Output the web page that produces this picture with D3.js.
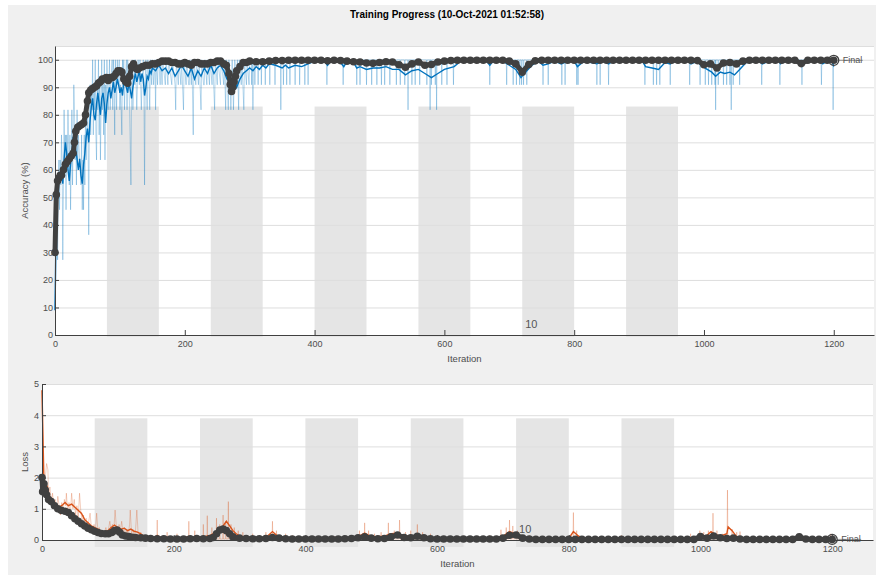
<!DOCTYPE html>
<html>
<head>
<meta charset="utf-8">
<script src="https://cdn.jsdelivr.net/npm/d3@7"></script>
<style>
  body { margin: 0; background: #fff; }
  svg { display: block; font-family: "Liberation Sans", Arial, sans-serif; }
</style>
</head>
<body>
<svg id="chart" width="876" height="575"></svg>
<script>
const title = 'Training Progress (10-Oct-2021 01:52:58)';

// iteration axis
const iterTicks = [0, 200, 400, 600, 800, 1000, 1200];
const iterLimit = 1262;
const epochStarts = [80, 240, 400, 560, 720, 880]; // shaded (even) epochs
const epochLength = 80;
const epochMark = { iter: 720, label: '10' };

const accTicks = [0, 10, 20, 30, 40, 50, 60, 70, 80, 90, 100];
const lossTicks = [0, 1, 2, 3, 4, 5];

// mini-batch accuracy, [iteration, %]
const accRaw = [
  [0,9.1],[1,18.2],[2,45.5],[3,36.4],[4,27.3],[5,54.5],[6,63.6],[7,45.5],[8,63.6],[9,54.5],
  [10,72.7],[11,63.6],[12,27.3],[13,54.5],[14,81.8],[15,63.6],[16,72.7],[17,45.5],[18,72.7],[19,63.6],
  [20,81.8],[22,54.5],[23,72.7],[24,45.5],[25,63.6],[26,81.8],[27,54.5],[28,72.7],[29,90.9],[30,81.8],
  [31,63.6],[32,72.7],[33,54.5],[34,81.8],[35,63.6],[36,72.7],[38,63.6],[40,54.5],[41,72.7],[42,45.5],
  [43,63.6],[44,45.5],[45,72.7],[46,54.5],[47,81.8],[48,63.6],[49,72.7],[50,81.8],[51,72.7],[52,36.4],
  [53,81.8],[54,90.9],[55,72.7],[56,90.9],[57,81.8],[58,100],[59,72.7],[60,90.9],[61,81.8],[62,100],
  [63,72.7],[64,63.6],[65,90.9],[66,81.8],[67,100],[68,72.7],[69,90.9],[70,63.6],[71,81.8],[72,100],
  [73,81.8],[74,90.9],[75,72.7],[76,100],[77,63.6],[78,90.9],[79,81.8],[80,100],[82,81.8],[83,90.9],
  [84,100],[85,81.8],[86,90.9],[88,100],[89,81.8],[90,100],[91,90.9],[92,72.7],[93,100],[94,90.9],
  [95,81.8],[96,100],[97,90.9],[99,100],[100,81.8],[101,90.9],[103,72.7],[104,100],[105,90.9],[106,100],
  [107,81.8],[108,90.9],[110,100],[111,81.8],[112,100],[114,90.9],[115,81.8],[117,54.5],[118,90.9],[119,100],
  [120,81.8],[122,100],[123,90.9],[124,100],[126,81.8],[127,90.9],[128,100],[130,90.9],[131,100],[133,81.8],
  [134,90.9],[136,100],[137,90.9],[138,54.5],[139,90.9],[140,100],[142,81.8],[143,100],[145,90.9],[146,81.8],
  [147,100],[149,90.9],[150,100],[152,90.9],[154,100],[155,81.8],[156,100],[158,90.9],[159,100],[160,100],
  [162,90.9],[163,100],[165,90.9],[166,100],[170,90.9],[171,100],[174,90.9],[175,100],[180,90.9],[181,100],
  [185,90.9],[186,81.8],[187,100],[190,90.9],[191,100],[194,90.9],[195,100],[198,81.8],[199,100],[202,90.9],
  [203,100],[206,90.9],[207,90.9],[208,100],[210,90.9],[211,100],[213,72.7],[214,100],[217,90.9],[218,100],
  [221,90.9],[222,100],[225,81.8],[226,100],[229,90.9],[230,90.9],[231,100],[234,90.9],[235,100],[238,90.9],
  [239,100],[242,90.9],[243,100],[246,81.8],[247,100],[250,90.9],[251,100],[255,90.9],[256,100],[260,90.9],
  [261,100],[263,81.8],[264,100],[266,90.9],[267,81.8],[268,100],[270,90.9],[271,81.8],[272,90.9],[273,100],
  [275,81.8],[276,90.9],[277,100],[280,90.9],[281,100],[283,81.8],[284,100],[287,90.9],[288,100],[291,81.8],
  [292,100],[295,90.9],[296,100],[299,90.9],[300,100]
];
// after iteration 300 the mini-batch accuracy sits at 100 except for these dips
const accDips = [
  [303,90.9],[305,81.8],[308,90.9],[313,90.9],[318,90.9],[324,90.9],[331,90.9],[339,90.9],[348,81.8],[352,90.9],
  [357,90.9],[362,90.9],[370,90.9],[377,90.9],[385,90.9],[390,90.9],[419,90.9],[444,90.9],[465,90.9],[470,90.9],
  [480,90.9],[488,90.9],[496,90.9],[503,90.9],[508,90.9],[516,90.9],[526,90.9],[532,90.9],[539,90.9],[544,81.8],
  [550,90.9],[555,90.9],[562,90.9],[573,90.9],[578,81.8],[580,90.9],[586,90.9],[588,81.8],[596,90.9],[604,90.9],
  [614,90.9],[670,90.9],[696,90.9],[706,90.9],[711,90.9],[716,90.9],[719,90.9],[722,90.9],[727,90.9],[752,90.9],
  [760,90.9],[781,90.9],[786,90.9],[804,90.9],[806,90.9],[835,90.9],[840,90.9],[853,90.9],[909,90.9],[922,90.9],
  [927,90.9],[932,90.9],[948,90.9],[978,90.9],[994,90.9],[1002,90.9],[1007,90.9],[1012,90.9],[1017,90.9],[1018,81.8],
  [1022,90.9],[1030,90.9],[1035,90.9],[1040,90.9],[1042,81.8],[1045,90.9],[1055,90.9],[1089,90.9],[1117,90.9],[1151,90.9],
  [1181,90.9],[1199,81.8]
];
const accCeil = 100;

// smoothed accuracy
const accSmooth = [
  [0,9],[2,45],[4,55],[6,58],[8,56],[10,60],[12,55],[14,64],[16,70],[18,66],[20,60],[22,56],[24,62],[26,66],
  [28,72],[30,70],[32,67],[34,64],[36,60],[38,64],[40,58],[42,55],[44,62],[46,66],[48,72],[50,75],[52,70],
  [54,78],[56,83],[58,86],[60,80],[62,78],[64,84],[66,88],[68,84],[70,80],[72,86],[74,88],[76,84],[78,77],
  [80,84],[82,88],[84,90],[86,86],[88,89],[90,92],[92,88],[94,90],[96,93],[98,91],[100,88],[102,90],[104,87],
  [106,92],[108,93],[110,90],[112,88],[114,92],[116,89],[118,86],[120,90],[122,93],[124,95],[126,92],[128,94],
  [130,96],[132,92],[134,95],[136,93],[138,87],[140,90],[142,94],[144,93],[146,96],[148,95],[150,97],[155,96],
  [160,98],[165,96],[170,97],[175,95],[180,97],[185,94],[190,96],[195,98],[200,96],[205,94],[210,97],[215,93],
  [220,96],[225,94],[230,97],[235,95],[240,98],[245,95],[250,97],[255,98],[260,96],[265,93],[270,92],[275,94],
  [280,90],[285,93],[290,95],[295,96],[300,97],[305,96],[310,97.5],[315,96.5],[320,98],[325,97],[330,98.5],[340,98],
  [350,97],[355,98],[360,97],[370,98],[380,97.5],[390,98.5],[400,99.5],[415,99.5],[420,98],[425,99.5],[440,99],
  [445,97.5],[450,99.5],[460,99],[465,97],[470,97.5],[480,96.5],[490,97],[500,97],[510,97.5],[520,96.5],[530,96.5],
  [540,94.5],[550,96],[560,96.5],[570,95],[580,93.5],[590,95],[600,96.5],[615,97.5],[625,99.5],[665,99.5],[670,98],
  [675,99.5],[690,99.5],[700,98],[710,96.5],[718,93.5],[725,95.5],[735,98],[745,99.5],[752,98],[760,98.5],[770,99.5],
  [780,98.5],[790,99.5],[800,99.5],[805,97.5],[815,99.5],[835,98.5],[845,99.5],[853,98.5],[860,99.5],[905,99.5],
  [910,97.5],[920,97],[930,96.5],[940,99],[948,98.5],[955,99.5],[975,99.5],[980,98.5],[990,99.5],[995,98],
  [1005,96.5],[1012,95.5],[1018,94],[1025,95.5],[1032,95],[1040,95.5],[1047,94.5],[1055,96.5],[1065,99],[1085,99.5],
  [1090,98.5],[1100,99.5],[1115,99.5],[1118,98.5],[1125,99.5],[1148,99.5],[1152,98.5],[1160,99.5],[1180,99.5],
  [1183,98.5],[1190,99.5],[1198,99],[1200,97.5]
];

// validation accuracy up to iteration 295, then every 10 iterations from 300
const accVal = [
  [0,30],[2,51],[4,56],[6,57],[8,58],[10,58],[13,60],[16,62],[19,63],[22,64],[25,65],[28,66],[30,70],[32,74],
  [35,75.5],[38,76],[41,76.5],[44,77],[47,80],[50,85],[52,88],[55,89],[58,89.5],[61,90],[64,90.5],[67,91.5],
  [70,92],[73,93],[76,93],[79,93.5],[82,92.5],[85,93.5],[88,93.5],[91,94],[94,95],[97,96],[100,96],[103,95.5],
  [106,93],[109,92],[112,91.5],[115,94],[118,97.5],[121,98.5],[124,97],[127,96.5],[130,97],[135,97.5],[140,98],
  [145,98],[150,98.5],[155,98.5],[160,99],[165,99.5],[170,99.5],[175,99.5],[180,99],[185,99],[190,98.5],[195,98.5],
  [200,99],[205,98.5],[210,98],[215,99],[220,99],[225,98.5],[230,98.5],[235,98.5],[240,99],[245,99],[250,99.5],
  [255,99.5],[260,98.5],[264,98],[268,95],[270,91],[272,88.5],[274,90],[276,92],[278,94],[280,96],[285,97.5],
  [290,99],[295,99]
];
const accValLate = [
  99.5,99.3,99.3,99.5,99.7,99.7,99.8,99.8,99.8,99.8,
  99.8,99.8,99.6,99.8,99.7,99.5,99.3,99.2,98.8,98.7,
  99,99.3,99.2,98.2,97.3,98.5,99.2,98,98.3,99.2,
  99.5,99.7,99.8,99.8,99.8,99.8,99.8,99.8,99.8,99.8,
  99.5,98.5,95.5,98.3,99.6,99.8,99.8,99.8,99.8,99.8,
  99.8,99.8,99.8,99.8,99.8,99.8,99.8,99.8,99.8,99.8,
  99.8,99.8,99.8,99.8,99.8,99.8,99.8,99.8,99.8,99.7,
  98.2,98.5,97,98.8,99,98.5,99.5,99.8,99.8,99.8,
  99.8,99.8,99.8,99.8,99.8,98.6,99.8,99.8,99.8,99.8,
  99.8
];

// mini-batch loss, [iteration, loss]
const lossRaw = [
  [0,4.8],[2,2.0],[3,1.6],[5,2.0],[7,2.45],[9,2.25],[10,1.4],[12,1.7],[14,1.2],[16,1.5],[18,1.0],[20,1.3],
  [22,0.9],[24,1.4],[26,1.1],[28,0.8],[30,1.2],[32,0.9],[34,1.3],[36,1.1],[37,1.5],[39,0.9],[41,1.2],[43,0.8],
  [45,1.5],[47,1.0],[49,1.3],[51,0.8],[53,1.1],[55,0.7],[57,1.5],[59,0.9],[61,0.6],[63,0.8],[65,0.5],[67,0.7],
  [69,0.4],[71,0.6],[73,0.86],[75,0.4],[77,0.3],[79,0.5],[81,0.3],[83,0.86],[85,0.25],[87,0.4],[89,0.2],[91,0.3],
  [93,0.15],[95,0.25],[97,0.4],[99,0.2],[101,0.35],[103,0.6],[105,0.3],[107,0.5],[109,0.3],[111,0.96],[113,0.4],
  [115,0.2],[117,0.5],[119,0.3],[121,0.6],[123,0.25],[125,0.4],[127,0.2],[129,0.3],[131,0.15],[133,0.5],[134,0.96],
  [136,0.2],[138,0.35],[140,0.15],[142,0.3],[144,0.96],[146,0.2],[148,0.1],[150,0.25],[152,0.08],[154,0.15],
  [156,0.05],[158,0.12],[160,0.03]
];
// after iteration 160 the mini-batch loss stays near the floor except for these spikes
const lossSpikes = [
  [175,0.64],[190,0.25],[205,0.2],[223,0.6],[232,0.3],[245,0.5],[251,0.78],[258,0.4],[265,0.7],[270,0.5],
  [275,0.8],[279,0.6],[283,1.23],[287,0.5],[292,0.4],[298,0.3],[305,0.25],[320,0.2],[340,0.25],[350,0.6],
  [356,0.3],[370,0.2],[380,0.15],[395,0.1],[420,0.1],[445,0.12],[470,0.15],[482,0.3],[490,0.55],[496,0.3],
  [505,0.2],[515,0.25],[526,0.55],[535,0.3],[543,0.64],[552,0.25],[560,0.3],[570,0.5],[578,0.25],[590,0.2],
  [600,0.15],[620,0.12],[650,0.1],[680,0.15],[697,0.33],[705,0.4],[710,0.64],[715,0.45],[722,0.3],[740,0.15],
  [760,0.1],[780,0.12],[807,0.88],[812,0.3],[830,0.1],[860,0.12],[880,0.15],[900,0.1],[930,0.12],[960,0.1],
  [985,0.2],[999,0.3],[1005,0.25],[1012,0.3],[1019,0.86],[1025,0.3],[1033,0.2],[1041,1.6],[1048,0.35],[1055,0.25],
  [1060,0.27],[1080,0.1],[1120,0.12],[1150,0.1],[1180,0.12],[1198,0.2]
];
const lossFloor = 0.03;

const lossSmooth = [
  [0,4.8],[2,2.8],[3,1.8],[5,1.6],[8,1.7],[11,1.35],[15,1.25],[20,1.15],[25,1.05],[30,1.1],[35,1.2],[40,1.1],
  [45,1.15],[50,1.05],[55,0.95],[60,0.85],[65,0.65],[70,0.55],[75,0.45],[80,0.4],[85,0.35],[90,0.27],[95,0.25],
  [100,0.3],[105,0.4],[110,0.48],[115,0.4],[120,0.35],[125,0.38],[130,0.3],[135,0.35],[140,0.28],[145,0.25],
  [150,0.2],[155,0.12],[160,0.08],[170,0.06],[175,0.15],[180,0.08],[190,0.06],[200,0.05],[210,0.05],[220,0.1],
  [225,0.08],[235,0.06],[245,0.1],[255,0.15],[265,0.25],[270,0.3],[275,0.45],[280,0.6],[285,0.45],[290,0.3],
  [295,0.2],[300,0.12],[310,0.08],[320,0.06],[340,0.08],[350,0.27],[358,0.12],[370,0.06],[400,0.04],[450,0.04],
  [480,0.1],[490,0.22],[500,0.1],[520,0.12],[530,0.2],[541,0.22],[550,0.12],[565,0.12],[570,0.2],[580,0.1],
  [600,0.06],[650,0.04],[690,0.06],[700,0.12],[710,0.27],[718,0.2],[728,0.08],[760,0.04],[800,0.05],[807,0.27],
  [815,0.12],[825,0.05],[900,0.04],[990,0.05],[1000,0.12],[1010,0.15],[1016,0.27],[1022,0.18],[1030,0.12],
  [1040,0.2],[1042,0.42],[1048,0.3],[1055,0.1],[1065,0.05],[1150,0.05],[1198,0.08],[1200,0.1]
];

const lossVal = [
  [0,2.0],[1,1.55],[3,1.8],[5,1.6],[7,1.45],[10,1.3],[14,1.23],[19,1.1],[24,1.0],[29,0.95],[35,0.92],[40,0.88],
  [45,0.78],[50,0.68],[55,0.6],[60,0.52],[65,0.45],[70,0.38],[75,0.33],[80,0.28],[85,0.24],[90,0.21],[96,0.2],
  [101,0.2],[106,0.24],[110,0.3],[114,0.32],[118,0.25],[122,0.16],[127,0.13],[132,0.11],[137,0.09],[142,0.08],
  [150,0.07],[157,0.06],[165,0.05],[175,0.04],[185,0.04],[195,0.03],[205,0.03],[215,0.03],[225,0.04],[235,0.05],
  [245,0.04],[255,0.05],[260,0.08],[265,0.2],[270,0.32],[275,0.35],[280,0.3],[285,0.2],[290,0.1]
];
const lossValLate = [
  0.06,0.05,0.04,0.04,0.05,0.08,0.06,0.04,0.03,0.03,
  0.03,0.03,0.03,0.03,0.03,0.03,0.04,0.05,0.07,0.1,
  0.06,0.04,0.05,0.1,0.16,0.08,0.07,0.12,0.07,0.04,
  0.03,0.03,0.03,0.03,0.03,0.03,0.03,0.03,0.03,0.03,
  0.06,0.15,0.16,0.06,0.03,0.02,0.02,0.02,0.02,0.02,
  0.02,0.02,0.02,0.02,0.02,0.02,0.02,0.02,0.02,0.02,
  0.02,0.02,0.02,0.02,0.02,0.02,0.02,0.02,0.02,0.02,
  0.11,0.06,0.13,0.07,0.05,0.06,0.03,0.02,0.02,0.02,
  0.02,0.02,0.02,0.02,0.02,0.1,0.03,0.02,0.02,0.02,
  0.02
];
const lateIters = d3.range(300, 1201, 10);

const svg = d3.select('#chart');

// figure background
svg.append('rect')
  .attr('x', 8).attr('y', 5).attr('width', 868).attr('height', 570)
  .attr('fill', '#f0f0f0');

svg.append('text')
  .attr('x', 447).attr('y', 18)
  .attr('text-anchor', 'middle')
  .attr('font-size', 10)
  .attr('font-weight', 'bold')
  .attr('fill', '#000')
  .text(title);

// spikes around a flat level -> polyline points
function withSpikes(points, spikes, level) {
  const out = points.slice();
  spikes.forEach(d => {
    out.push([d[0] - 0.6, level], d, [d[0] + 0.6, level]);
  });
  out.push([1200, level]);
  return out;
}

function drawPanel(o) {
  const x = d3.scaleLinear().domain([0, iterLimit]).range([o.left, o.right]);
  const y = d3.scaleLinear().domain([0, o.yMax]).range([o.bottom, o.top]);
  const g = svg.append('g');

  g.append('rect')
    .attr('x', o.left).attr('y', o.top)
    .attr('width', o.right - o.left).attr('height', o.bottom - o.top)
    .attr('fill', '#fff');

  // shaded epochs
  g.append('g')
    .selectAll('rect')
    .data(epochStarts)
    .join('rect')
    .attr('x', d => x(d))
    .attr('width', d => x(d + epochLength) - x(d))
    .attr('y', y(o.bandTop))
    .attr('height', o.bottom + o.bandDrop - y(o.bandTop))
    .attr('fill', '#e5e5e5');

  // grid
  g.append('g')
    .selectAll('line')
    .data(o.yTicks.filter(t => t > 0).concat([o.yMax]))
    .join('line')
    .attr('x1', o.left).attr('x2', o.right)
    .attr('y1', d => y(d) + 0.5).attr('y2', d => y(d) + 0.5)
    .attr('stroke', '#dedede');

  g.append('text')
    .attr('x', x(epochMark.iter) + 3)
    .attr('y', o.bottom - 7)
    .attr('font-size', 11)
    .attr('fill', '#555')
    .text(epochMark.label);

  const line = d3.line().x(d => x(d[0])).y(d => y(d[1]));

  g.append('path')
    .datum(o.raw)
    .attr('d', line)
    .attr('fill', 'none')
    .attr('stroke', o.color)
    .attr('stroke-opacity', 0.28)
    .attr('stroke-width', 1);

  g.append('path')
    .datum(o.smooth)
    .attr('d', line)
    .attr('fill', 'none')
    .attr('stroke', o.color)
    .attr('stroke-width', 1.4);

  g.append('path')
    .datum(o.val)
    .attr('d', line)
    .attr('fill', 'none')
    .attr('stroke', '#404040')
    .attr('stroke-width', 5)
    .attr('stroke-linejoin', 'round');

  g.append('g')
    .selectAll('circle')
    .data(o.val)
    .join('circle')
    .attr('cx', d => x(d[0]))
    .attr('cy', d => y(d[1]))
    .attr('r', 3.8)
    .attr('fill', '#404040');

  // final marker
  const last = o.val[o.val.length - 1];
  g.append('line')
    .attr('x1', x(last[0]) + 5).attr('x2', x(last[0]) + 29)
    .attr('y1', y(last[1])).attr('y2', y(last[1]))
    .attr('stroke', '#777').attr('stroke-width', 0.8);
  g.append('circle')
    .attr('cx', x(last[0])).attr('cy', y(last[1]))
    .attr('r', 5)
    .attr('fill', 'none')
    .attr('stroke', '#404040')
    .attr('stroke-width', 1.3);
  g.append('text')
    .attr('x', x(last[0]) + 9).attr('y', y(last[1]) + 3)
    .attr('font-size', 9)
    .attr('fill', '#555')
    .text('Final');

  // axes
  g.append('g')
    .attr('transform', `translate(0,${o.bottom})`)
    .attr('color', '#404040')
    .call(d3.axisBottom(x).tickValues(iterTicks).tickFormat(d3.format('d'))
      .tickSizeInner(-5).tickSizeOuter(0).tickPadding(6))
    .call(a => a.selectAll('text').attr('font-size', 9).attr('fill', '#4d4d4d'));

  g.append('g')
    .attr('transform', `translate(${o.left},0)`)
    .attr('color', '#404040')
    .call(d3.axisLeft(y).tickValues(o.yTicks).tickFormat(d3.format('d'))
      .tickSizeInner(-4).tickSizeOuter(0).tickPadding(o.yPad))
    .call(a => a.selectAll('text').attr('font-size', 9).attr('fill', '#4d4d4d'));

  g.append('text')
    .attr('x', (o.left + o.right) / 2)
    .attr('y', o.bottom + 27)
    .attr('text-anchor', 'middle')
    .attr('font-size', 9.5)
    .attr('fill', '#4d4d4d')
    .text('Iteration');

  g.append('text')
    .attr('transform', `translate(28,${(o.top + o.bottom) / 2}) rotate(-90)`)
    .attr('text-anchor', 'middle')
    .attr('font-size', 9.5)
    .attr('fill', '#4d4d4d')
    .text(o.yLabel);
}

drawPanel({
  left: 55, right: 874, top: 46, bottom: 335,
  yMax: 105, yTicks: accTicks, yPad: 2, yLabel: 'Accuracy (%)',
  bandTop: 83, bandDrop: 2,
  color: '#0072bd',
  raw: withSpikes(accRaw, accDips, accCeil),
  smooth: accSmooth,
  val: accVal.concat(lateIters.map((it, i) => [it, accValLate[i]]))
});

drawPanel({
  left: 42, right: 873, top: 384, bottom: 540,
  yMax: 5, yTicks: lossTicks, yPad: 3, yLabel: 'Loss',
  bandTop: 3.9, bandDrop: 7,
  color: '#d95319',
  raw: withSpikes(lossRaw, lossSpikes, lossFloor),
  smooth: lossSmooth,
  val: lossVal.concat(lateIters.map((it, i) => [it, lossValLate[i]]))
});
</script>
</body>
</html>
